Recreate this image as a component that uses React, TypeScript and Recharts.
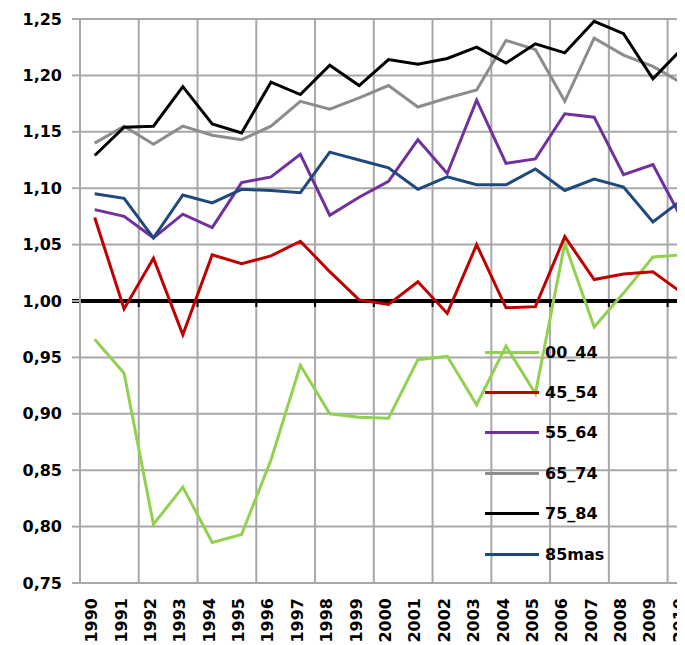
import { CartesianGrid, Legend, Line, LineChart, ReferenceLine, XAxis, YAxis } from 'recharts';

const years = [
  '1990', '1991', '1992', '1993', '1994', '1995', '1996', '1997', '1998', '1999', '2000',
  '2001', '2002', '2003', '2004', '2005', '2006', '2007', '2008', '2009', '2010',
];

const age00_44 = [0.966, 0.936, 0.802, 0.835, 0.786, 0.793, 0.859, 0.943, 0.9, 0.897, 0.896, 0.948, 0.951, 0.908, 0.96, 0.918, 1.051, 0.977, 1.007, 1.039, 1.041];
const age45_54 = [1.074, 0.993, 1.038, 0.97, 1.041, 1.033, 1.04, 1.053, 1.026, 1.001, 0.997, 1.017, 0.989, 1.05, 0.994, 0.995, 1.057, 1.019, 1.024, 1.026, 1.007];
const age55_64 = [1.081, 1.075, 1.056, 1.077, 1.065, 1.105, 1.11, 1.13, 1.076, 1.092, 1.106, 1.143, 1.113, 1.178, 1.122, 1.126, 1.166, 1.163, 1.112, 1.121, 1.072];
const age65_74 = [1.14, 1.155, 1.139, 1.155, 1.147, 1.143, 1.155, 1.177, 1.17, 1.18, 1.191, 1.172, 1.18, 1.187, 1.231, 1.223, 1.177, 1.233, 1.218, 1.208, 1.193];
const age75_84 = [1.129, 1.154, 1.155, 1.19, 1.157, 1.149, 1.194, 1.183, 1.209, 1.191, 1.214, 1.21, 1.215, 1.225, 1.211, 1.228, 1.22, 1.248, 1.237, 1.197, 1.224];
const age85mas = [1.095, 1.091, 1.056, 1.094, 1.087, 1.099, 1.098, 1.096, 1.132, 1.125, 1.118, 1.099, 1.11, 1.103, 1.103, 1.117, 1.098, 1.108, 1.101, 1.07, 1.09];

const yTicks = [0.75, 0.8, 0.85, 0.9, 0.95, 1.0, 1.05, 1.1, 1.15, 1.2, 1.25];

const series = [
  { key: '00_44', values: age00_44, color: '#92d050' },
  { key: '45_54', values: age45_54, color: '#c00000' },
  { key: '55_64', values: age55_64, color: '#7030a0' },
  { key: '65_74', values: age65_74, color: '#8c8c8c' },
  { key: '75_84', values: age75_84, color: '#000000' },
  { key: '85mas', values: age85mas, color: '#1f497d' },
];

const data = years.map((year, i) => {
  const row: { [k: string]: string | number } = { year };
  series.forEach((s) => {
    row[s.key] = s.values[i];
  });
  return row;
});

const FONT = '"DejaVu Sans", sans-serif';
const GRID = '#a8a8a8';

const YearTick = ({ x, y, payload }: any) => (
  <g transform={`translate(${x - 3},${y})`}>
    <text
      transform="rotate(-90)"
      textAnchor="end"
      dominantBaseline="central"
      fontFamily={FONT}
      fontWeight="bold"
      fontSize={16}
      fill="#000"
    >
      {payload.value}
    </text>
  </g>
);

// black "axis" at 1,00 with the little tick marks hanging under it
const UnityLine = ({ x1, y1, x2 }: any) => {
  const step = ((x2 - x1) / years.length) * 2;
  const marks = [];
  for (let k = 0; x1 + k * step <= x2; k++) marks.push(x1 + k * step);
  return (
    <g>
      <line x1={x1 - 8} y1={y1} x2={x2} y2={y1} stroke="#000" strokeWidth={4} />
      {marks.map((mx) => (
        <line key={mx} x1={mx} y1={y1} x2={mx} y2={y1 + 6} stroke="#000" strokeWidth={2} />
      ))}
    </g>
  );
};

const LegendBox = () => (
  <div style={{ fontFamily: FONT, fontWeight: 'bold', fontSize: 16, color: '#000' }}>
    {series.map((s) => (
      <div key={s.key} style={{ display: 'flex', alignItems: 'center', height: 40.4 }}>
        <span style={{ display: 'inline-block', width: 54, height: 3, background: s.color, marginRight: 6 }} />
        <span>{s.key}</span>
      </div>
    ))}
  </div>
);

export default function App() {
  return (
    <div style={{ width: 677, height: 637, overflow: 'hidden' }}>
      <LineChart width={690} height={637} data={data} margin={{ top: 11, right: 1, bottom: 0, left: 0 }}>
        <CartesianGrid
          stroke={GRID}
          strokeWidth={2}
          verticalCoordinatesGenerator={({ offset }: any) => {
            const step = (offset.width / years.length) * 2;
            const xs = [];
            for (let k = 0; k * step <= offset.width; k++) xs.push(offset.left + k * step);
            return xs;
          }}
        />
        <XAxis
          dataKey="year"
          interval={0}
          padding={{ left: 14.7, right: 14.7 }}
          height={62}
          axisLine={false}
          tickLine={false}
          tickSize={0}
          tickMargin={15}
          tick={<YearTick />}
        />
        <YAxis
          width={72}
          domain={[0.75, 1.25]}
          ticks={yTicks}
          tickFormatter={(v: number) => v.toFixed(2).replace('.', ',')}
          axisLine={{ stroke: GRID, strokeWidth: 2 }}
          tickLine={{ stroke: GRID, strokeWidth: 2 }}
          tickSize={8}
          tickMargin={10}
          tick={{ fontFamily: FONT, fontWeight: 'bold', fontSize: 16, fill: '#000' }}
        />
        <ReferenceLine y={1} shape={<UnityLine />} />
        {series.map((s) => (
          <Line
            key={s.key}
            type="linear"
            dataKey={s.key}
            name={s.key}
            stroke={s.color}
            strokeWidth={3}
            dot={false}
            isAnimationActive={false}
          />
        ))}
        <Legend
          layout="vertical"
          align="center"
          verticalAlign="middle"
          content={<LegendBox />}
          wrapperStyle={{ left: 477, top: 324, width: 'auto' }}
        />
      </LineChart>
    </div>
  );
}
